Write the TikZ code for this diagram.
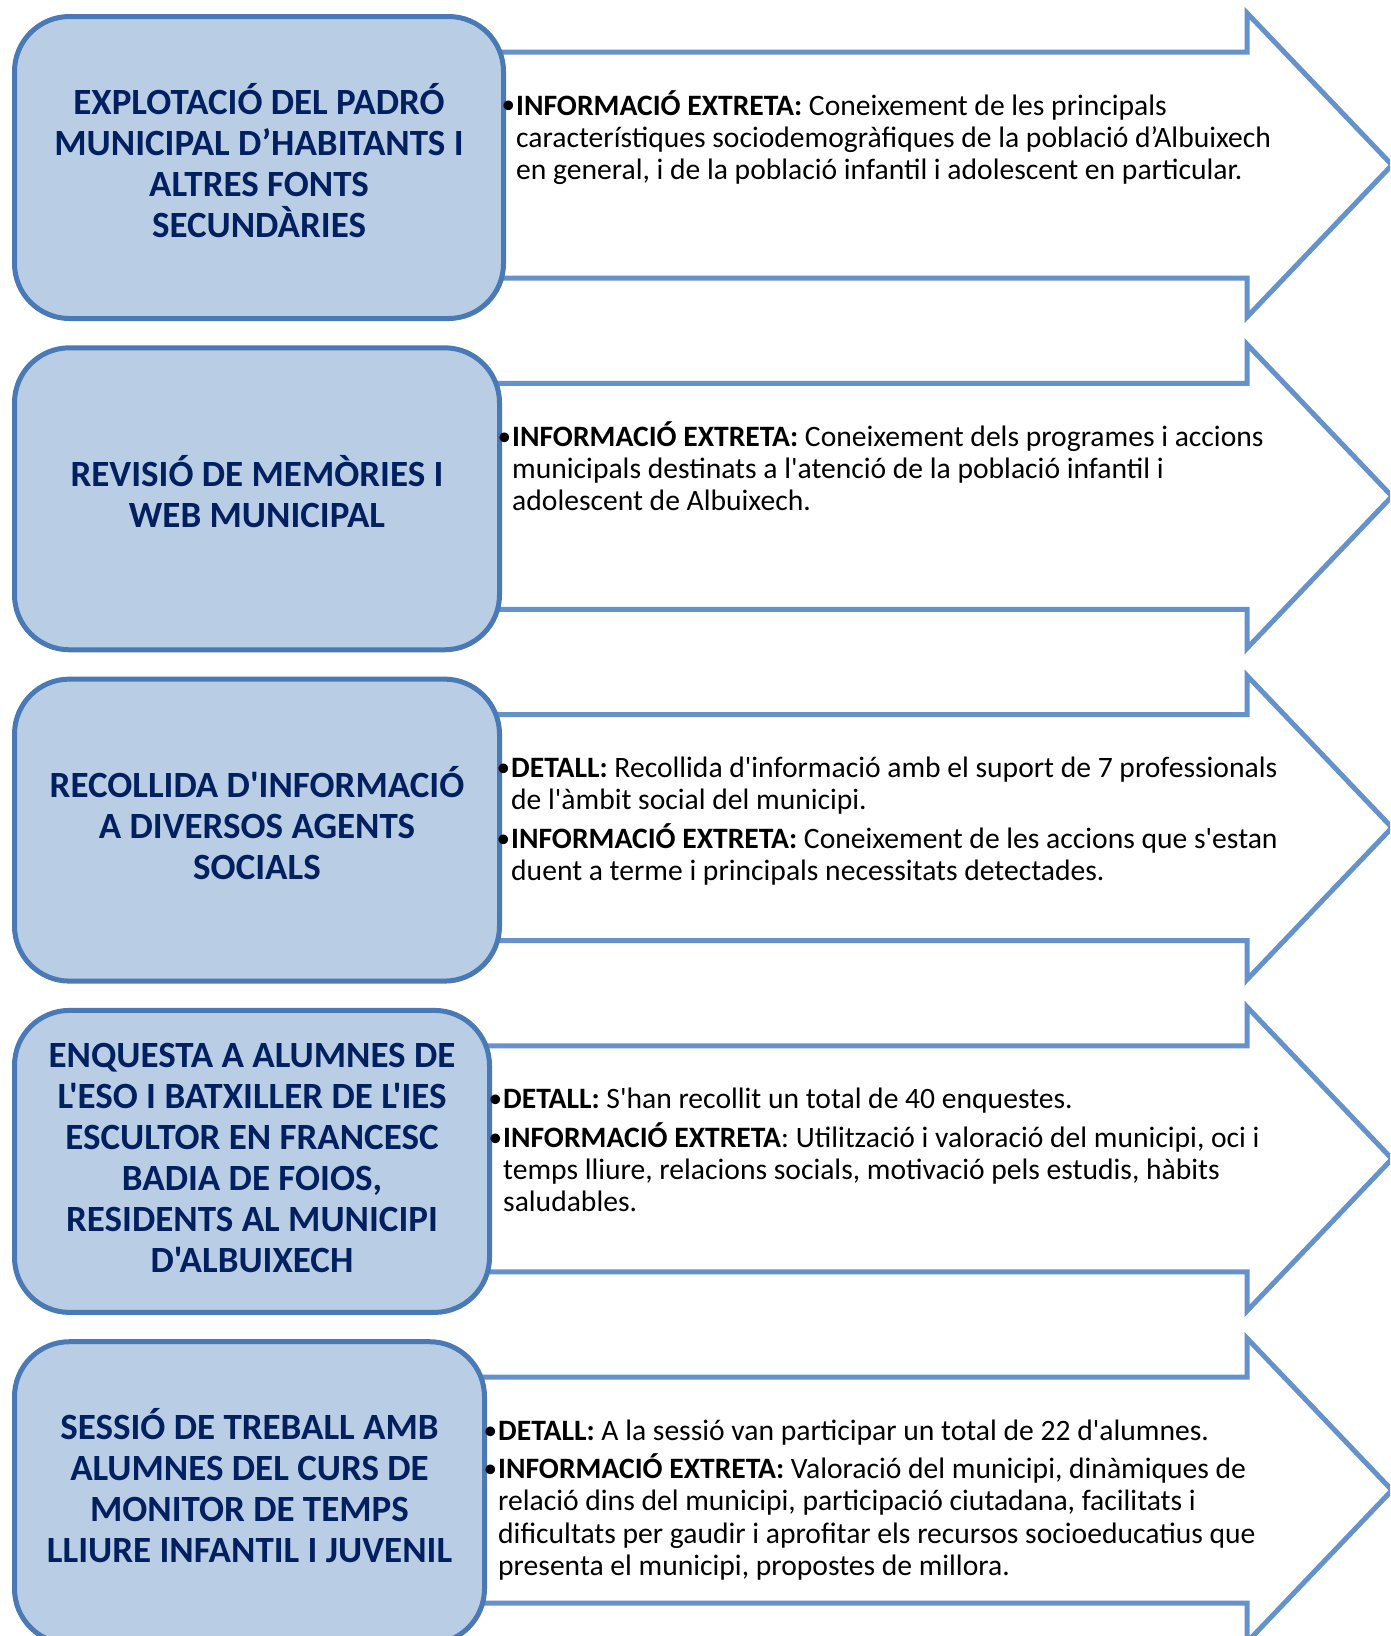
\documentclass[tikz,border=0pt]{standalone}
\usepackage{fontspec}
\setmainfont{Carlito}[Ligatures=TeXOff]
\definecolor{boxfill}{HTML}{B9CDE5}
\definecolor{boxline}{HTML}{4A7AB5}
\definecolor{arrline}{HTML}{6592CA}
\definecolor{navy}{HTML}{002060}
\newcommand\titlefont{\fontsize{37}{41}\selectfont\bfseries}
\newcommand\bodyfont{\fontsize{29.6}{32.3}\selectfont}
\newcommand\bitem[2]{\par\hangindent=15pt\hangafter=1\noindent\makebox[15pt][l]{\hspace{0.5pt}\raisebox{1.2pt}{\scalebox{0.92}{•}}}\textbf{#1}#2}
\newenvironment{bodyblock}{\begin{minipage}[t]{880pt}\bodyfont\setlength\parskip{6pt}\raggedright}{\end{minipage}}
\tikzset{
  titlebox/.style={draw=boxline, fill=boxfill, line width=5pt, rounded corners=55pt,
    anchor=north west, minimum height=302pt, inner sep=0pt},
  titletext/.style={font=\titlefont, text=navy, align=center, inner sep=0pt},
  arrowshape/.style={draw=arrline, fill=white, line width=5pt, line join=miter},
  bodytext/.style={anchor=base west, inner sep=0pt, text=black}
}
% #1 row index, #2 right edge of the box, #3 name suffix, #4 title, #5 text x, #6 title lift
\newcommand\flowrow[6]{%
  \begin{scope}[yshift={-331.3pt*(#1-1)}]
    \draw[arrowshape] ({#2-30},52) -- (1247,52) -- (1247,13) -- (1392,165) -- (1247,317) -- (1247,278) -- ({#2-30},278) -- cycle;
    \node[titlebox, minimum width={(#2-12)*1pt}] (box#3) at (12,14) {};
    \node[titletext, yshift=#6pt] (title#3) at (box#3.center) {#4};
    \coordinate (txt#3) at ({#5-15},115);
  \end{scope}}
\begin{document}
\begin{tikzpicture}[x=1pt,y=-1pt]
\useasboundingbox (0,0) rectangle (1390,1636);
\clip (0,0) rectangle (1390,1636);
\fill[white] (0,0) rectangle (1390,1636);

\flowrow{1}{501}{a}{EXPLOTACIÓ DEL PADRÓ\\MUNICIPAL D’HABITANTS I\\ALTRES FONTS\\SECUNDÀRIES}{516}{7}
\node[bodytext] (ta) at (txta) {\begin{bodyblock}
\bitem{INFORMACIÓ EXTRETA:}{ Coneixement de les principals\newline característiques sociodemogràfiques de la població d’Albuixech\newline en general, i de la població infantil i adolescent en particular.}
\end{bodyblock}};

\flowrow{2}{497}{b}{REVISIÓ DE MEMÒRIES I\\WEB MUNICIPAL}{512}{7}
\node[bodytext] (tb) at (txtb) {\begin{bodyblock}
\bitem{INFORMACIÓ EXTRETA:}{ Coneixement dels programes i accions\newline municipals destinats a l'atenció de la població infantil i\newline adolescent de Albuixech.}
\end{bodyblock}};

\flowrow{3}{497}{c}{RECOLLIDA D'INFORMACIÓ\\A DIVERSOS AGENTS\\SOCIALS}{511}{7}
\node[bodytext] (tc) at (txtc) {\begin{bodyblock}
\bitem{DETALL:}{ Recollida d'informació amb el suport de 7 professionals\newline de l'àmbit social del municipi.}
\bitem{INFORMACIÓ EXTRETA:}{ Coneixement de les accions que s'estan\newline duent a terme i principals necessitats detectades.}
\end{bodyblock}};

\flowrow{4}{487}{d}{ENQUESTA A ALUMNES DE\\L'ESO I BATXILLER DE L'IES\\ESCULTOR EN FRANCESC\\BADIA DE FOIOS,\\RESIDENTS AL MUNICIPI\\D'ALBUIXECH}{503}{3}
\node[bodytext] (td) at (txtd) {\begin{bodyblock}
\bitem{DETALL:}{ S'han recollit un total de 40 enquestes.}
\bitem{INFORMACIÓ EXTRETA}{: Utilització i valoració del municipi, oci i\newline temps lliure, relacions socials, motivació pels estudis, hàbits\newline saludables.}
\end{bodyblock}};

\flowrow{5}{482}{e}{SESSIÓ DE TREBALL AMB\\ALUMNES DEL CURS DE\\MONITOR DE TEMPS\\LLIURE INFANTIL I JUVENIL}{498}{7}
\node[bodytext] (te) at (txte) {\begin{bodyblock}
\bitem{DETALL:}{ A la sessió van participar un total de 22 d'alumnes.}
\bitem{INFORMACIÓ EXTRETA:}{ Valoració del municipi, dinàmiques de\newline relació dins del municipi, participació ciutadana, facilitats i\newline dificultats per gaudir i aprofitar els recursos socioeducatius que\newline presenta el municipi, propostes de millora.}
\end{bodyblock}};
\end{tikzpicture}
\end{document}
